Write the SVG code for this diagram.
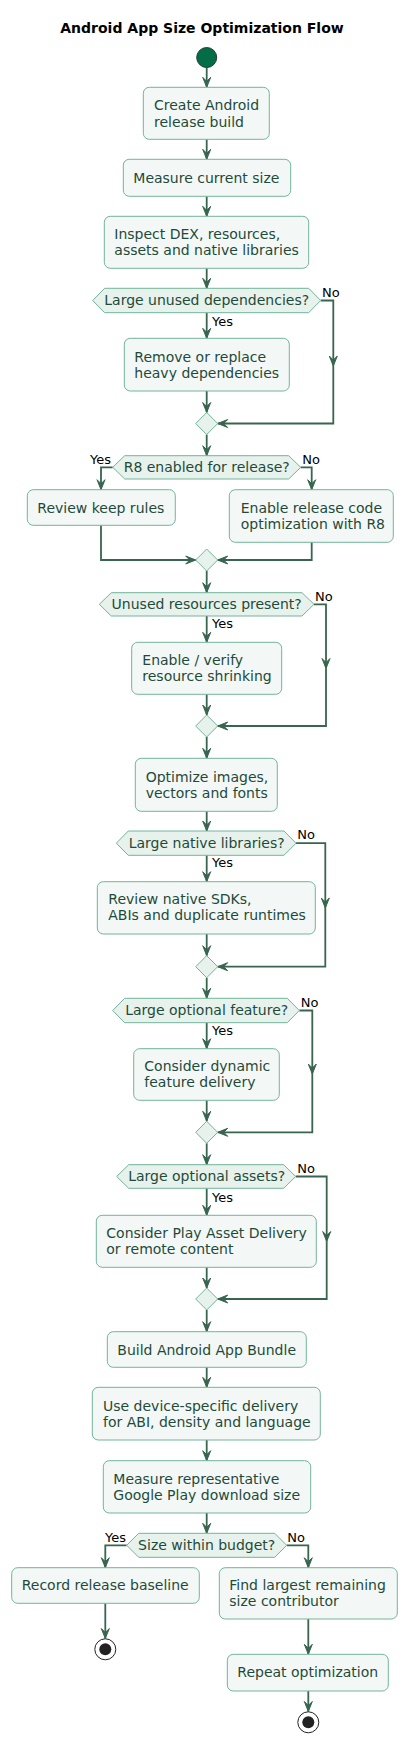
<svg xmlns="http://www.w3.org/2000/svg" width="407" height="1743" viewBox="0 0 407 1743">
<defs>
<style>
.box{fill:#F3F8F6;stroke:#72B49A;stroke-width:1}
.dec{fill:#E7F2EC;stroke:#72B49A;stroke-width:1}
.t{font-family:"DejaVu Sans",sans-serif;font-size:14px;fill:#1F4A3A}
.tc{font-family:"DejaVu Sans",sans-serif;font-size:14px;fill:#1F4A3A;text-anchor:middle}
.lb{font-family:"DejaVu Sans",sans-serif;font-size:13px;fill:#000}
.lbe{font-family:"DejaVu Sans",sans-serif;font-size:13px;fill:#000;text-anchor:end}
.title{font-family:"DejaVu Sans",sans-serif;font-size:14px;font-weight:bold;fill:#000;text-anchor:middle}
.c{fill:none;stroke:#38654F;stroke-width:1.8;marker-end:url(#ah)}
</style>
<marker id="ah" viewBox="-11 -5 12 10" refX="0" refY="0" markerWidth="12" markerHeight="10" markerUnits="userSpaceOnUse" orient="auto">
<path d="M0,0 L-10,-4 L-6,0 L-10,4 Z" fill="#38654F" stroke="#38654F" stroke-width="1"/>
</marker>
</defs>
<rect width="407" height="1743" fill="#FFFFFF"/>
<text class="title" x="202" y="33">Android App Size Optimization Flow</text>

<g id="connectors">
<path class="c" d="M206.7,67.5 V87.3"/>
<path class="c" d="M206.7,139.3 V159.3"/>
<path class="c" d="M206.7,196.3 V216.3"/>
<path class="c" d="M206.7,268.3 V288.3"/>
<path class="c" d="M206.7,312.7 V338.3"/>
<path class="c" d="M320.7,300.5 H333.3 V366"/>
<path class="c" d="M333.3,366 V423.5 H217.7"/>
<path class="c" d="M206.7,391 V412.5"/>
<path class="c" d="M206.7,434.5 V455.7"/>
<path class="c" d="M112.7,467.3 H101 V489.7"/>
<path class="c" d="M300.7,467.3 H311.7 V489.7"/>
<path class="c" d="M101,525.3 V560 H195.7"/>
<path class="c" d="M311.7,542.3 V560 H217.7"/>
<path class="c" d="M206.7,571 V592.7"/>
<path class="c" d="M206.7,616 V642.3"/>
<path class="c" d="M314,604.3 H326 V668.5"/>
<path class="c" d="M326,668.5 V726 H217.7"/>
<path class="c" d="M206.7,694.3 V715"/>
<path class="c" d="M206.7,737 V758.3"/>
<path class="c" d="M206.7,811.3 V831"/>
<path class="c" d="M206.7,855.3 V881.7"/>
<path class="c" d="M296,843.2 H325.3 V908"/>
<path class="c" d="M325.3,908 V966.7 H217.7"/>
<path class="c" d="M206.7,934 V955.7"/>
<path class="c" d="M206.7,977.7 V998.3"/>
<path class="c" d="M206.7,1022.7 V1048.7"/>
<path class="c" d="M299.3,1010.5 H312.3 V1074"/>
<path class="c" d="M312.3,1074 V1132.3 H217.7"/>
<path class="c" d="M206.7,1100.3 V1121.3"/>
<path class="c" d="M206.7,1143.3 V1164.7"/>
<path class="c" d="M206.7,1188.3 V1215.3"/>
<path class="c" d="M295.7,1176.5 H326.7 V1241.5"/>
<path class="c" d="M326.7,1241.5 V1299 H217.7"/>
<path class="c" d="M206.7,1267.3 V1288"/>
<path class="c" d="M206.7,1310 V1331.7"/>
<path class="c" d="M206.7,1367.3 V1387.3"/>
<path class="c" d="M206.7,1440 V1460.7"/>
<path class="c" d="M206.7,1513 V1533.3"/>
<path class="c" d="M126.7,1545.3 H105.3 V1567.7"/>
<path class="c" d="M286.7,1545.3 H308.3 V1567.7"/>
<path class="c" d="M105.3,1603.3 V1638.5"/>
<path class="c" d="M308.3,1619 V1654.3"/>
<path class="c" d="M308.3,1691 V1711.5"/>
<text class="lb" x="322" y="297">No</text>
<text class="lb" x="212" y="326">Yes</text>
<text class="lbe" x="111" y="464">Yes</text>
<text class="lb" x="302.3" y="464">No</text>
<text class="lb" x="315" y="600.5">No</text>
<text class="lb" x="212" y="628.3">Yes</text>
<text class="lb" x="297.3" y="839.3">No</text>
<text class="lb" x="212" y="867.3">Yes</text>
<text class="lb" x="300.7" y="1006.7">No</text>
<text class="lb" x="212" y="1035">Yes</text>
<text class="lb" x="297.3" y="1173.3">No</text>
<text class="lb" x="212" y="1201.7">Yes</text>
<text class="lbe" x="126" y="1541.7">Yes</text>
<text class="lb" x="287.3" y="1541.7">No</text>
</g>

<g id="start"><circle cx="206.7" cy="57.5" r="10" fill="#036D48" stroke="#1E3D30" stroke-width="1"/></g>

<g id="n1"><rect class="box" x="143.3" y="87.3" width="126" height="52" rx="6"/>
<text class="t" x="154" y="110.3">Create Android</text><text class="t" x="154" y="126.5">release build</text></g>

<g id="n2"><rect class="box" x="123.3" y="159.3" width="167.4" height="37" rx="6"/>
<text class="t" x="133.3" y="182.5">Measure current size</text></g>

<g id="n3"><rect class="box" x="104.3" y="216.3" width="204.4" height="52" rx="6"/>
<text class="t" x="114.3" y="239.3">Inspect DEX, resources,</text><text class="t" x="114.3" y="255.3">assets and native libraries</text></g>

<g id="d1"><polygon class="dec" points="92.7,300.5 104.7,288.3 308.7,288.3 320.7,300.5 308.7,312.7 104.7,312.7"/>
<text class="tc" x="206.7" y="305.3">Large unused dependencies?</text></g>

<g id="n4"><rect class="box" x="124.3" y="338.3" width="165" height="52.7" rx="6"/>
<text class="t" x="134.3" y="361.7">Remove or replace</text><text class="t" x="134.3" y="377.7">heavy dependencies</text></g>

<g id="m1"><polygon class="dec" points="195.7,423.5 206.7,412.5 217.7,423.5 206.7,434.5"/></g>

<g id="d2"><polygon class="dec" points="112.7,467.3 124.7,455.7 288.7,455.7 300.7,467.3 288.7,479 124.7,479"/>
<text class="tc" x="206.7" y="472">R8 enabled for release?</text></g>

<g id="n5"><rect class="box" x="27.3" y="489.7" width="148" height="35.6" rx="6"/>
<text class="t" x="37.3" y="512.7">Review keep rules</text></g>

<g id="n6"><rect class="box" x="229.3" y="489.7" width="164" height="52.6" rx="6"/>
<text class="t" x="240.7" y="512.7">Enable release code</text><text class="t" x="240.7" y="528.7">optimization with R8</text></g>

<g id="m2"><polygon class="dec" points="195.7,560 206.7,549 217.7,560 206.7,571"/></g>

<g id="d3"><polygon class="dec" points="99.3,604.3 111.3,592.7 302,592.7 314,604.3 302,616 111.3,616"/>
<text class="tc" x="206.7" y="609">Unused resources present?</text></g>

<g id="n7"><rect class="box" x="131.7" y="642.3" width="150" height="52" rx="6"/>
<text class="t" x="142.3" y="665.3">Enable / verify</text><text class="t" x="142.3" y="681.3">resource shrinking</text></g>

<g id="m3"><polygon class="dec" points="195.7,726 206.7,715 217.7,726 206.7,737"/></g>

<g id="n8"><rect class="box" x="135.3" y="758.3" width="142" height="53" rx="6"/>
<text class="t" x="145.7" y="781.7">Optimize images,</text><text class="t" x="145.7" y="797.7">vectors and fonts</text></g>

<g id="d4"><polygon class="dec" points="116.3,843.2 128.3,831 284,831 296,843.2 284,855.3 128.3,855.3"/>
<text class="tc" x="206.7" y="848">Large native libraries?</text></g>

<g id="n9"><rect class="box" x="97.3" y="881.7" width="218" height="52.3" rx="6"/>
<text class="t" x="108.3" y="904.3">Review native SDKs,</text><text class="t" x="108.3" y="920.3">ABIs and duplicate runtimes</text></g>

<g id="m4"><polygon class="dec" points="195.7,966.7 206.7,955.7 217.7,966.7 206.7,977.7"/></g>

<g id="d5"><polygon class="dec" points="112.7,1010.5 124.7,998.3 287.3,998.3 299.3,1010.5 287.3,1022.7 124.7,1022.7"/>
<text class="tc" x="206.7" y="1015.3">Large optional feature?</text></g>

<g id="n10"><rect class="box" x="133.7" y="1048.7" width="145.6" height="51.6" rx="6"/>
<text class="t" x="144.3" y="1071">Consider dynamic</text><text class="t" x="144.3" y="1087">feature delivery</text></g>

<g id="m5"><polygon class="dec" points="195.7,1132.3 206.7,1121.3 217.7,1132.3 206.7,1143.3"/></g>

<g id="d6"><polygon class="dec" points="116.7,1176.5 128.7,1164.7 283.7,1164.7 295.7,1176.5 283.7,1188.3 128.7,1188.3"/>
<text class="tc" x="206.7" y="1181.3">Large optional assets?</text></g>

<g id="n11"><rect class="box" x="96.3" y="1215.3" width="220" height="52" rx="6"/>
<text class="t" x="106.3" y="1238">Consider Play Asset Delivery</text><text class="t" x="106.3" y="1254">or remote content</text></g>

<g id="m6"><polygon class="dec" points="195.7,1299 206.7,1288 217.7,1299 206.7,1310"/></g>

<g id="n12"><rect class="box" x="107.3" y="1331.7" width="199" height="35.6" rx="6"/>
<text class="t" x="117.3" y="1354.5">Build Android App Bundle</text></g>

<g id="n13"><rect class="box" x="92.3" y="1387.3" width="228" height="52.7" rx="6"/>
<text class="t" x="103" y="1410.7">Use device-specific delivery</text><text class="t" x="103" y="1426.7">for ABI, density and language</text></g>

<g id="n14"><rect class="box" x="103.3" y="1460.7" width="207.4" height="52.3" rx="6"/>
<text class="t" x="113.3" y="1483.5">Measure representative</text><text class="t" x="113.3" y="1499.5">Google Play download size</text></g>

<g id="d7"><polygon class="dec" points="126.7,1545.3 138.7,1533.3 274.7,1533.3 286.7,1545.3 274.7,1557.3 138.7,1557.3"/>
<text class="tc" x="206.7" y="1550">Size within budget?</text></g>

<g id="n15"><rect class="box" x="11.7" y="1567.7" width="187.6" height="35.6" rx="6"/>
<text class="t" x="21.7" y="1590">Record release baseline</text></g>

<g id="n16"><rect class="box" x="219.3" y="1567.7" width="178" height="51.3" rx="6"/>
<text class="t" x="229.3" y="1590">Find largest remaining</text><text class="t" x="229.3" y="1606">size contributor</text></g>

<g id="end1"><circle cx="105.3" cy="1649.3" r="10.5" fill="#FFFFFF" stroke="#222222" stroke-width="1"/><circle cx="105.3" cy="1649.3" r="6" fill="#222222"/></g>

<g id="n17"><rect class="box" x="227.3" y="1654.3" width="161" height="36.7" rx="6"/>
<text class="t" x="237.3" y="1677.3">Repeat optimization</text></g>

<g id="end2"><circle cx="308.3" cy="1722.3" r="10.5" fill="#FFFFFF" stroke="#222222" stroke-width="1"/><circle cx="308.3" cy="1722.3" r="6" fill="#222222"/></g>
</svg>
